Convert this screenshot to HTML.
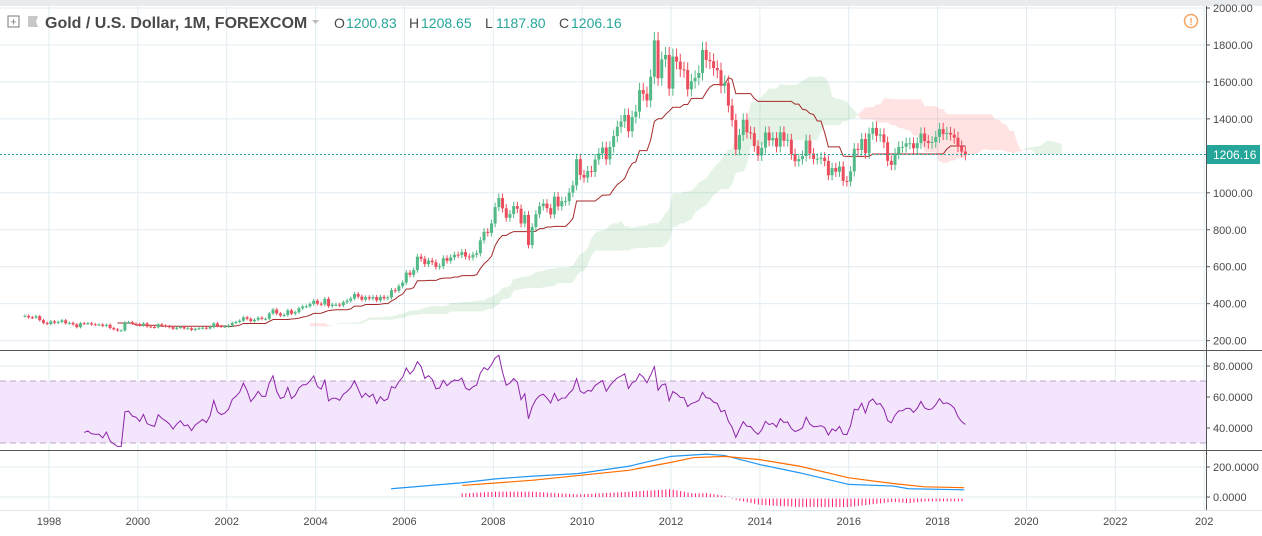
<!DOCTYPE html>
<html><head><meta charset="utf-8"><style>
body{margin:0;background:#fff;font-family:"Liberation Sans",sans-serif;}
svg{display:block}
</style></head><body>
<svg id="c" width="1262" height="536" xmlns="http://www.w3.org/2000/svg">
<rect x="0" y="0" width="1262" height="536" fill="#fff"/>
<rect x="0" y="0" width="1262" height="6" fill="#e9ecef"/>
<g id="grid"></g>
<rect x="0" y="381" width="1206" height="62" fill="#f3e5fb"/>
<line x1="0" y1="381" x2="1206" y2="381" stroke="#b9a5c4" stroke-dasharray="6,4"/>
<line x1="0" y1="443" x2="1206" y2="443" stroke="#b9a5c4" stroke-dasharray="6,4"/>
<g id="cloud"></g><g id="kijun"></g><g id="candles"></g><g id="rsi"></g><g id="macd"></g>
<line x1="0" y1="154.5" x2="1206" y2="154.5" stroke="#26a69a" stroke-dasharray="2,2"/>
<line x1="0" y1="350.5" x2="1262" y2="350.5" stroke="#555"/>
<line x1="0" y1="450.5" x2="1262" y2="450.5" stroke="#555"/>
<line x1="1206.5" y1="6" x2="1206.5" y2="510" stroke="#555"/>
<line x1="0" y1="510.5" x2="1262" y2="510.5" stroke="#e0e3eb"/>
<g id="axes" font-size="11" fill="#4a4a4a"></g>
<rect x="1207" y="145" width="53" height="19" fill="#26a69a"/>
<text x="1213" y="159" font-size="12" fill="#fff">1206.16</text>
<circle cx="1191" cy="21" r="6.5" fill="none" stroke="#f7a35c" stroke-width="1.5"/>
<text x="1191" y="25" font-size="10" fill="#f7a35c" text-anchor="middle" font-weight="bold">!</text>
<g>
<rect x="8" y="16" width="11" height="11" fill="#fff" stroke="#777"/>
<text x="13.5" y="25.5" font-size="11" fill="#777" text-anchor="middle">+</text>
<polygon points="28,16 38,16 36,21.5 38,27 28,27" fill="#c8c8c8"/>
<text x="45" y="28" font-size="16" font-weight="bold" fill="#4a4a4a">Gold / U.S. Dollar, 1M, FOREXCOM</text>
<polygon points="312,20 319,20 315.5,24" fill="#bbb"/>
<g font-size="14">
<text x="334" y="28" fill="#4a4a4a">O</text><text x="346" y="28" fill="#26a69a">1200.83</text>
<text x="409" y="28" fill="#4a4a4a">H</text><text x="421" y="28" fill="#26a69a">1208.65</text>
<text x="485" y="28" fill="#4a4a4a">L</text><text x="496" y="28" fill="#26a69a">1187.80</text>
<text x="559" y="28" fill="#4a4a4a">C</text><text x="571" y="28" fill="#26a69a">1206.16</text>
</g>
</g>
</svg>
<script>
const closes=[334,326,325,332,311,296,290,
304,297,301,310,294,296,288,273,294,292,294,288,
287,287,280,286,268,261,255,255,299,300,292,290,
283,293,277,274,272,288,282,278,273,264,270,274,
266,267,258,264,267,270,266,273,293,279,275,277,
282,296,301,308,326,318,305,313,324,318,318,347,
368,347,336,339,364,346,354,375,385,386,398,416,
400,396,426,387,395,395,391,408,416,428,452,438,
422,435,428,436,418,437,429,434,473,470,495,514,
568,556,582,654,643,614,633,624,599,603,646,632,
651,665,663,679,655,650,665,673,743,789,783,834,
923,972,916,865,885,928,914,834,880,717,815,884,
927,942,917,883,979,927,954,955,1001,1040,1182,1097,
1082,1118,1113,1180,1213,1245,1181,1248,1307,1357,1386,1421,
1333,1410,1439,1556,1536,1500,1628,1825,1620,1722,1746,1564,
1737,1710,1668,1664,1560,1604,1622,1648,1773,1719,1712,1675,
1663,1578,1595,1472,1393,1234,1313,1395,1327,1323,1253,1202,
1244,1326,1284,1296,1250,1327,1282,1287,1209,1171,1182,1199,
1283,1212,1183,1184,1190,1172,1095,1134,1114,1142,1064,1061,
1116,1238,1232,1291,1214,1320,1351,1309,1316,1273,1173,1151,
1211,1248,1249,1268,1268,1241,1269,1321,1280,1270,1275,1302,
1345,1318,1324,1315,1298,1252,1223,1206];
const startYear=1997+5/12;
const macdTimes=[2005.7,2007.3,2008.05,2008.9,2009.9,2011.05,2012.0,2012.8,2013.2,2014.0,2014.9,2016.0,2017.0,2017.35,2018.6];
const macdValues=[55,95,121,139,156,205,271,286,277,216,161,84,73,55,48];
const signalTimes=[2007.3,2008.9,2011.05,2012.0,2012.5,2013.2,2014.0,2014.9,2016.0,2017.0,2017.7,2018.6];
const signalValues=[77,112,178,231,262,271,249,205,128,90,68,62];
const priceTicks=[2000,1800,1600,1400,1000,800,600,400,200];
const priceTickLabels=["2000.00","1800.00","1600.00","1400.00","1000.00","800.00","600.00","400.00","200.00"];
const rsiTicks=[80,60,40];
const rsiTickLabels=["80.0000","60.0000","40.0000"];
const macdTicks=[200,0];
const macdTickLabels=["200.0000","0.0000"];
const yearTicks=[1998,2000,2002,2004,2006,2008,2010,2012,2014,2016,2018,2020,2022,2024];
const yearTickLabels=["1998","2000","2002","2004","2006","2008","2010","2012","2014","2016","2018","2020","2022","202"];

const NS="http://www.w3.org/2000/svg";
const xT=t=>49+(t-1998)*44.43;
const xI=i=>xT(startYear+i/12+1/24);
const yP=v=>8+(2000-v)*0.1848;
const yR=v=>366+(80-v)*1.55;
const yM=v=>497-v*0.15;
function mk(parent,tag,attrs){const e=document.createElementNS(NS,tag);for(const k in attrs)e.setAttribute(k,attrs[k]);document.getElementById(parent).appendChild(e);return e;}

yearTicks.forEach((yv,k)=>{const x=xT(yv);
 const g=mk('grid','line',{x1:x,y1:6,x2:x,y2:510,stroke:'#e1ecf2'});
 
 
 const t=mk('axes','text',{x:x,y:525,'text-anchor':'middle'});t.textContent=yearTickLabels[k];
 
 });
priceTicks.forEach((v,k)=>{const y=yP(v);
 const g=mk('grid','line',{x1:0,y1:y,x2:1206,y2:y,stroke:'#e1ecf2'});
 
 
 mk('axes','line',{x1:1206,y1:y,x2:1210,y2:y,stroke:'#555'});
 const t=mk('axes','text',{x:1213,y:y+4});t.textContent=priceTickLabels[k];
 
 });
rsiTicks.forEach((v,k)=>{const y=yR(v);
 mk('grid','line',{x1:0,y1:y,x2:1206,y2:y,stroke:'#e1ecf2'});
 mk('axes','line',{x1:1206,y1:y,x2:1210,y2:y,stroke:'#555'});
 const t=mk('axes','text',{x:1213,y:y+4});t.textContent=rsiTickLabels[k];
 
 });
macdTicks.forEach((v,k)=>{const y=yM(v);
 mk('grid','line',{x1:0,y1:y,x2:1206,y2:y,stroke:'#e1ecf2'});
 mk('axes','line',{x1:1206,y1:y,x2:1210,y2:y,stroke:'#555'});
 const t=mk('axes','text',{x:1213,y:y+4});t.textContent=macdTickLabels[k];
 
 });

const n=closes.length;
const opens=closes.map((c,i)=>i?closes[i-1]:c);
const highs=closes.map((c,i)=>Math.max(c,opens[i])*1.025);
const lows=closes.map((c,i)=>Math.min(c,opens[i])*0.975);
for(let i=0;i<n;i++){const up=closes[i]>=opens[i];const col=up?'#53b987':'#eb4d5c';const x=xI(i);
 const w=mk('candles','line',{x1:x,y1:yP(highs[i]),x2:x,y2:yP(lows[i]),stroke:col});
 
 
 const t=Math.min(yP(opens[i]),yP(closes[i])),h=Math.max(1,Math.abs(yP(opens[i])-yP(closes[i])));
 const b=mk('candles','rect',{x:x-1.5,y:t,width:3,height:h,fill:col});
 
 }

const mid=(i,p)=>{if(i<p-1)return null;let h=-1e9,l=1e9;for(let j=i-p+1;j<=i;j++){h=Math.max(h,highs[j]);l=Math.min(l,lows[j]);}return (h+l)/2;};
let kp='';for(let i=25;i<n;i++){kp+=(kp?'L':'M')+xI(i)+','+yP(mid(i,26));}
const kl=mk('kijun','path',{d:kp,fill:'none',stroke:'#a52a2a','stroke-width':1});


const sa=[],sb=[];for(let i=51;i<n;i++){sa.push([i+26,(mid(i,9)+mid(i,26))/2]);sb.push([i+26,mid(i,52)]);}
let k=0;
while(k<sa.length-1){const green=sa[k][1]>=sb[k][1];let e=k;
 while(e<sa.length-1&&((sa[e+1][1]>=sb[e+1][1])===green))e++;
 const last=Math.min(e+1,sa.length-1);
 let pts=[];for(let j=k;j<=last;j++)pts.push(xI(sa[j][0])+','+yP(sa[j][1]));
 for(let j=last;j>=k;j--)pts.push(xI(sb[j][0])+','+yP(sb[j][1]));
 const p=mk('cloud','polygon',{points:pts.join(' '),fill:green?'rgba(76,175,80,0.15)':'rgba(255,82,82,0.16)'});
 
 
 k=e+1;}

let ag=0,al=0,rp='';
for(let i=1;i<n;i++){const d=closes[i]-closes[i-1];const g=Math.max(d,0),l=Math.max(-d,0);
 if(i<=14){ag+=g/14;al+=l/14;}else{ag=(ag*13+g)/14;al=(al*13+l)/14;}
 if(i>=16){const r=al===0?100:100-100/(1+ag/al);rp+=(rp?'L':'M')+xI(i)+','+yR(r);}}
const rl=mk('rsi','path',{d:rp,fill:'none',stroke:'#8e24aa','stroke-width':1});



const at=(ts,vs,t)=>{if(t<=ts[0])return vs[0];for(let j=1;j<ts.length;j++)if(t<=ts[j])return vs[j-1]+(vs[j]-vs[j-1])*(t-ts[j-1])/(ts[j]-ts[j-1]);return vs[vs.length-1];};
for(let t=signalTimes[0];t<=2018.62;t+=1/12){const h=at(macdTimes,macdValues,t)-at(signalTimes,signalValues,t);
 const y0=h>=0?yM(0):yM(0)+1.5;
 const hb=mk('macd','line',{x1:xT(t),y1:y0,x2:xT(t),y2:y0-h*0.15*1.3,stroke:'#ff1a75','stroke-width':1});
 
 }
const ml=mk('macd','path',{d:macdTimes.map((t,j)=>(j?'L':'M')+xT(t)+','+yM(macdValues[j])).join(''),fill:'none',stroke:'#2196f3','stroke-width':1.2});


const sl=mk('macd','path',{d:signalTimes.map((t,j)=>(j?'L':'M')+xT(t)+','+yM(signalValues[j])).join(''),fill:'none',stroke:'#ff6d00','stroke-width':1.2});


</script>
</body></html>
